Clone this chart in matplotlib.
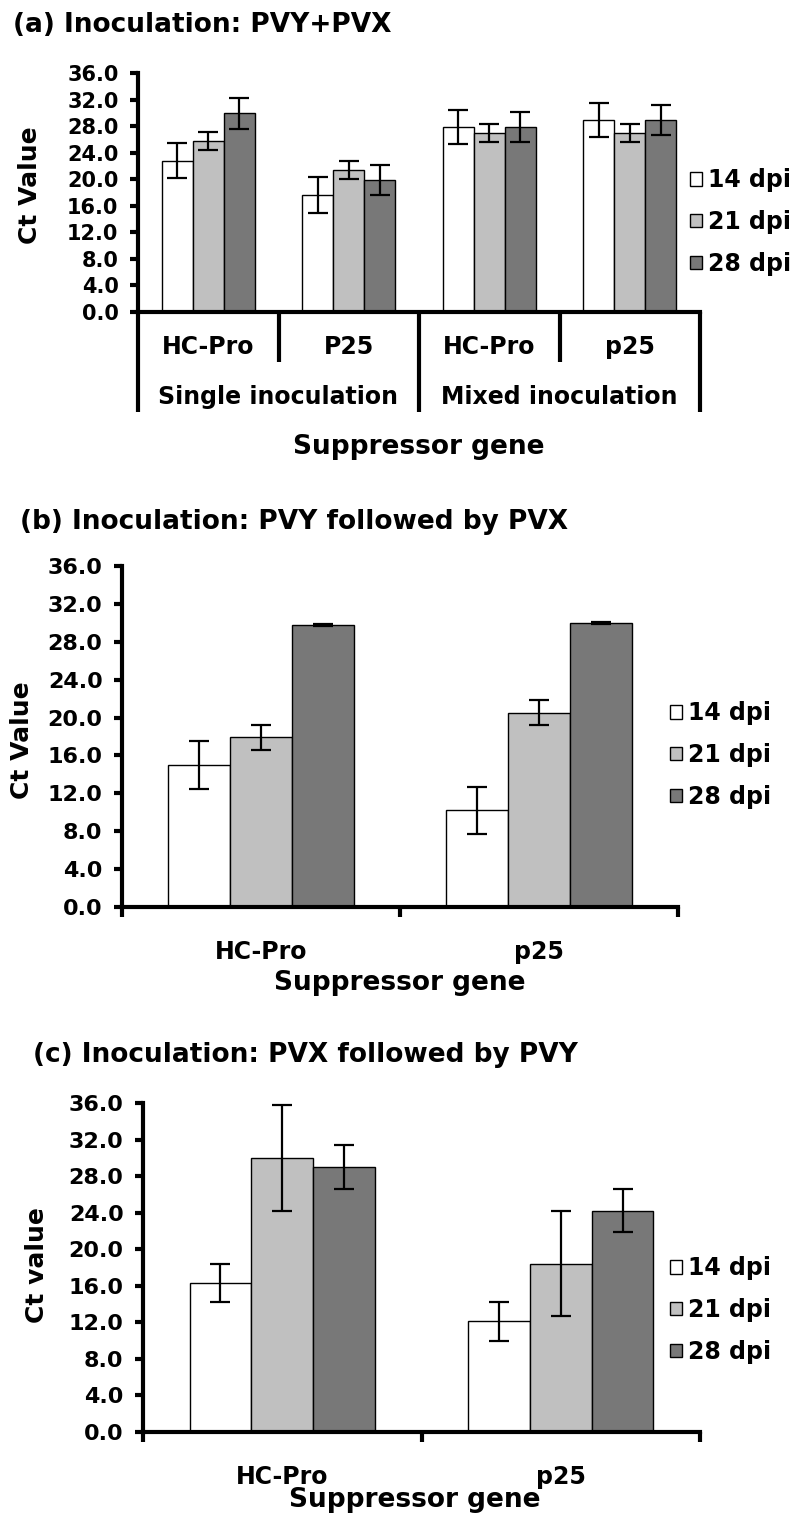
import numpy as np
import matplotlib
matplotlib.use("Agg")
import matplotlib.pyplot as plt
from matplotlib.patches import Patch

plt.rcParams["font.family"] = ["DejaVu Sans"]
plt.rcParams["font.weight"] = "bold"

# ── Data ──────────────────────────────────────────────────────────────────────

series_labels = ["14 dpi", "21 dpi", "28 dpi"]
series_colors = ["#ffffff", "#c0c0c0", "#787878"]

# (a) PVY+PVX
a_cats   = ["HC-Pro", "P25", "HC-Pro", "p25"]
a_groups = ["Single inoculation", "Mixed inoculation"]
a_14     = [22.8, 17.6, 27.9, 28.9]
a_21     = [25.7, 21.4, 26.9, 26.9]
a_28     = [29.9, 19.9, 27.9, 28.9]
a_14_err = [2.6, 2.7, 2.6, 2.6]
a_21_err = [1.35, 1.35, 1.35, 1.35]
a_28_err = [2.3, 2.3, 2.3, 2.3]

# (b) PVY followed by PVX
b_cats   = ["HC-Pro", "p25"]
b_14     = [15.0, 10.2]
b_21     = [17.9, 20.5]
b_28     = [29.8, 30.0]
b_14_err = [2.5, 2.45]
b_21_err = [1.33, 1.33]
b_28_err = [0.1, 0.1]

# (c) PVX followed by PVY
c_cats   = ["HC-Pro", "p25"]
c_14     = [16.3, 12.1]
c_21     = [30.0, 18.4]
c_28     = [29.0, 24.2]
c_14_err = [2.1, 2.15]
c_21_err = [5.8, 5.75]
c_28_err = [2.4, 2.35]

yticks = np.arange(0, 37, 4)

W, H = 793, 1526
fig = plt.figure(figsize=(W / 100, H / 100), dpi=100)


def px_axes(left, right, top, bottom):
    """Axes placed by pixel edges (y counted from the top)."""
    return fig.add_axes([left / W, 1 - bottom / H, (right - left) / W, (bottom - top) / H])


def draw_bars(ax, vals, errs, width):
    x = np.arange(len(vals[0]))
    for i, (v, e, c) in enumerate(zip(vals, errs, series_colors)):
        ax.bar(x + (i - 1) * width, v, width, color=c, edgecolor="black",
               linewidth=1.0, zorder=2)
        ax.errorbar(x + (i - 1) * width, v, yerr=e, fmt="none", ecolor="black",
                    elinewidth=1.6, capsize=7, capthick=1.6, zorder=3, clip_on=False)


def style_y(ax, labelsize):
    ax.set_ylim(0, 36)
    ax.set_yticks(yticks)
    ax.set_yticklabels([f"{t:.1f}" for t in yticks])
    ax.tick_params(axis="y", length=6, width=3, labelsize=labelsize, pad=8)
    for s in ["top", "right"]:
        ax.spines[s].set_visible(False)
    for s in ["left", "bottom"]:
        ax.spines[s].set_linewidth(3)
        ax.spines[s].set_capstyle("projecting")


def add_legend(x, y):
    handles = [Patch(facecolor=c, edgecolor="black", linewidth=1.0) for c in series_colors]
    fig.legend(handles, series_labels, loc="center left",
               bbox_to_anchor=(x / W, 1 - y / H), frameon=False,
               fontsize=17, handlelength=0.5, handleheight=0.5,
               handletextpad=0.25, labelspacing=0.75,
               borderpad=0, borderaxespad=0)


# ── (a) Inoculation: PVY+PVX ─────────────────────────────────────────────────

ax = px_axes(138, 700, 73, 312)
draw_bars(ax, [a_14, a_21, a_28], [a_14_err, a_21_err, a_28_err], 0.22)
style_y(ax, 15)
ax.set_xlim(-0.5, len(a_cats) - 0.5)
ax.set_xticks([])
tr = ax.get_xaxis_transform()
for k in range(len(a_cats) + 1):
    depth = -0.418 if k % 2 == 0 else -0.209
    ax.plot([k - 0.5, k - 0.5], [0, depth], transform=tr, color="black",
            lw=3, clip_on=False, solid_capstyle="butt")
for k, name in enumerate(a_cats):
    ax.text(k, -0.146, name, transform=tr, ha="center", va="center", fontsize=17)
for g, name in enumerate(a_groups):
    ax.text(2 * g + 0.5, -0.356, name, transform=tr, ha="center", va="center", fontsize=17)
fig.text(13 / W, 1 - 25 / H, "(a) Inoculation: PVY+PVX", fontsize=19, va="center")
fig.text(30 / W, 1 - 185 / H, "Ct Value", rotation=90, fontsize=18, ha="center", va="center")
fig.text(419 / W, 1 - 447 / H, "Suppressor gene", fontsize=19, ha="center", va="center")
add_legend(690, 222)

# ── (b) PVY followed by PVX, (c) PVX followed by PVY ─────────────────────────

for (vals, errs, cats, box, title, ttl_xy, ylab, ylab_xy, xl_xy, leg_xy) in [
    ([b_14, b_21, b_28], [b_14_err, b_21_err, b_28_err], b_cats,
     (122, 678, 566, 907), "(b) Inoculation: PVY followed by PVX", (20, 522),
     "Ct Value", (22, 740), (400, 983), (670, 755)),
    ([c_14, c_21, c_28], [c_14_err, c_21_err, c_28_err], c_cats,
     (143, 700, 1103, 1432), "(c) Inoculation: PVX followed by PVY", (33, 1055),
     "Ct value", (37, 1265), (415, 1500), (670, 1310)),
]:
    ax = px_axes(*box)
    draw_bars(ax, vals, errs, 0.222)
    style_y(ax, 16)
    ax.set_xlim(-0.5, len(cats) - 0.5)
    ax.set_xticks(np.arange(len(cats) + 1) - 0.5)
    ax.set_xticklabels([])
    ax.set_xticks(np.arange(len(cats)), minor=True)
    ax.set_xticklabels(cats, minor=True, fontsize=17)
    ax.tick_params(axis="x", which="major", length=7, width=3)
    ax.tick_params(axis="x", which="minor", length=0, pad=24)
    fig.text(ttl_xy[0] / W, 1 - ttl_xy[1] / H, title, fontsize=19, va="center")
    fig.text(ylab_xy[0] / W, 1 - ylab_xy[1] / H, ylab, rotation=90, fontsize=18,
             ha="center", va="center")
    fig.text(xl_xy[0] / W, 1 - xl_xy[1] / H, "Suppressor gene", fontsize=19,
             ha="center", va="center")
    add_legend(*leg_xy)

fig.savefig("out.png", dpi=100)
plt.close(fig)
